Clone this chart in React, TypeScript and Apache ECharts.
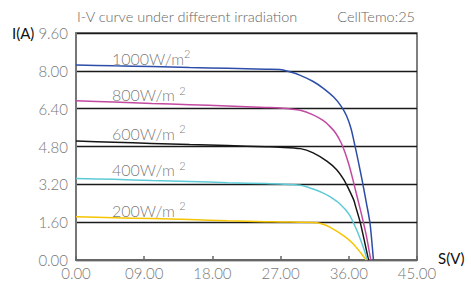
import React, { useEffect, useRef } from "react";
import * as echarts from "echarts";

const xTickLabels = ["0.00", "09.00", "18.00", "27.00", "36.00", "45.00"];
const yTickLabels = ["0.00", "1.60", "3.20", "4.80", "6.40", "8.00", "9.60"];

const irradiance = ["1000", "800", "600", "400", "200"];
const colors = ["#2d4ea8", "#c24aa0", "#151515", "#5ecad6", "#f6c400"];

const v1000 = [0, 5, 10, 15, 20, 25, 26.9, 28.2, 29.6, 31.3, 32.6, 34.0, 35.0, 35.7, 36.3, 36.8, 37.3, 37.8, 38.3, 38.8, 39.25];
const i1000 = [8.25, 8.21, 8.18, 8.14, 8.11, 8.07, 8.06, 7.96, 7.81, 7.55, 7.27, 6.89, 6.5, 6.1, 5.55, 4.85, 4.1, 3.3, 2.45, 1.55, 0];

const v800 = [0, 5, 10, 15, 20, 25, 26.9, 29.6, 31.3, 32.6, 33.5, 34.3, 35.0, 35.5, 36.0, 36.5, 37.0, 37.7, 38.3, 38.9];
const i800 = [6.74, 6.68, 6.62, 6.57, 6.51, 6.45, 6.43, 6.33, 6.14, 5.9, 5.65, 5.35, 4.95, 4.55, 4.05, 3.45, 2.8, 1.9, 1.05, 0];

const v600 = [0, 5, 10, 15, 20, 25, 26.9, 29.6, 31.3, 33.1, 34.4, 35.3, 35.9, 36.4, 36.7, 36.85, 37.5, 38.6];
const i600 = [5.03, 4.98, 4.93, 4.88, 4.84, 4.79, 4.77, 4.71, 4.53, 4.18, 3.82, 3.42, 3.06, 2.72, 2.5, 2.32, 1.6, 0];

const v400 = [0, 5, 10, 15, 20, 25, 26.9, 29.6, 31.3, 32.5, 33.5, 34.8, 36.0, 37.0, 37.9, 38.45];
const i400 = [3.45, 3.41, 3.36, 3.32, 3.27, 3.23, 3.21, 3.16, 3.0, 2.85, 2.68, 2.38, 1.95, 1.3, 0.55, 0];

const v200 = [0, 5, 10, 15, 20, 25, 26.9, 29.5, 31.8, 32.7, 33.5, 35.3, 36.6, 37.7, 38.3];
const i200 = [1.83, 1.79, 1.75, 1.71, 1.66, 1.62, 1.61, 1.6, 1.58, 1.5, 1.39, 1.03, 0.68, 0.25, 0];

const labelV = [4.75, 4.75, 4.75, 4.75, 4.75];
const labelI = [8.54, 6.98, 5.37, 3.81, 2.11];

const FONT = "Lato";

export default function App() {
  const ref = useRef<HTMLDivElement>(null);
  useEffect(() => {
    if (!ref.current) return;
    const chart = echarts.init(ref.current, null, { renderer: "svg" });
    const curves = [
      [v1000, i1000],
      [v800, i800],
      [v600, i600],
      [v400, i400],
      [v200, i200],
    ];
    const lineSeries = curves.map(([vs, is], k) => ({
      type: "line",
      name: irradiance[k] + "W/m2",
      data: vs.map((v, j) => [v, is[j]]),
      showSymbol: false,
      smooth: 0.25,
      lineStyle: { color: colors[k], width: 1.5 },
      itemStyle: { color: colors[k] },
      z: 3,
    }));
    const labelSeries = {
      type: "scatter",
      symbolSize: 0,
      silent: true,
      data: labelV.map((v, k) => ({
        value: [v, labelI[k]],
        label: {
          show: true,
          position: "right",
          distance: 0,
          formatter:
            k === 0
              ? irradiance[k] + "W/m{sup|2}"
              : irradiance[k] + "W/m {sup|2}",
          fontFamily: FONT,
          fontWeight: 300,
          fontSize: 16,
          color: "#555",
          rich: {
            sup: {
              fontFamily: FONT,
              fontWeight: 300,
              fontSize: 11,
              color: "#555",
              padding: [0, 0, 9, 0],
            },
          },
        },
      })),
      z: 4,
    };
    chart.setOption({
      animation: false,
      grid: {
        left: 76,
        right: 54,
        top: 33,
        bottom: 22,
        show: true,
        borderColor: "#555",
        borderWidth: 1.5,
      },
      xAxis: {
        type: "value",
        min: 0,
        max: 45,
        interval: 9,
        axisLine: { show: true, lineStyle: { color: "#666", width: 2 } },
        axisTick: { show: true, inside: true, length: 4, lineStyle: { color: "#666", width: 1.5 } },
        splitLine: { show: false },
        axisLabel: {
          margin: 5,
          fontFamily: FONT,
          fontWeight: 300,
          fontSize: 15,
          color: "#777",
          formatter: (val: number) => xTickLabels[Math.round(val / 9)] ?? "",
        },
      },
      yAxis: {
        type: "value",
        min: 0,
        max: 9.6,
        interval: 1.6,
        axisLine: { show: true, lineStyle: { color: "#777", width: 2 } },
        axisTick: { show: false },
        splitLine: { show: true, lineStyle: { color: "#1a1a1a", width: 1.3 } },
        axisLabel: {
          margin: 8,
          fontFamily: FONT,
          fontWeight: 300,
          fontSize: 15,
          color: "#777",
          formatter: (val: number) => yTickLabels[Math.round(val / 1.6)] ?? "",
        },
      },
      graphic: [
        {
          type: "text",
          left: 77,
          top: 9,
          style: {
            text: "I-V curve under different irradiation",
            fontFamily: FONT,
            fontWeight: 300,
            fontSize: 14.5,
            fill: "#666",
          },
        },
        {
          type: "text",
          right: 56,
          top: 9,
          style: {
            text: "CellTemo:25",
            fontFamily: FONT,
            fontWeight: 300,
            fontSize: 14.5,
            fill: "#666",
          },
        },
        {
          type: "text",
          left: 12,
          top: 25,
          style: {
            text: "I(A)",
            fontFamily: FONT,
            fontWeight: 400,
            fontSize: 15,
            fill: "#111",
          },
        },
        {
          type: "text",
          left: 438,
          top: 250,
          style: {
            text: "S(V)",
            fontFamily: FONT,
            fontWeight: 400,
            fontSize: 15,
            fill: "#111",
          },
        },
      ],
      series: [...lineSeries, labelSeries],
    });
    return () => chart.dispose();
  }, []);
  return <div ref={ref} style={{ width: 471, height: 282, position: "absolute", left: 0, top: 0 }} />;
}
